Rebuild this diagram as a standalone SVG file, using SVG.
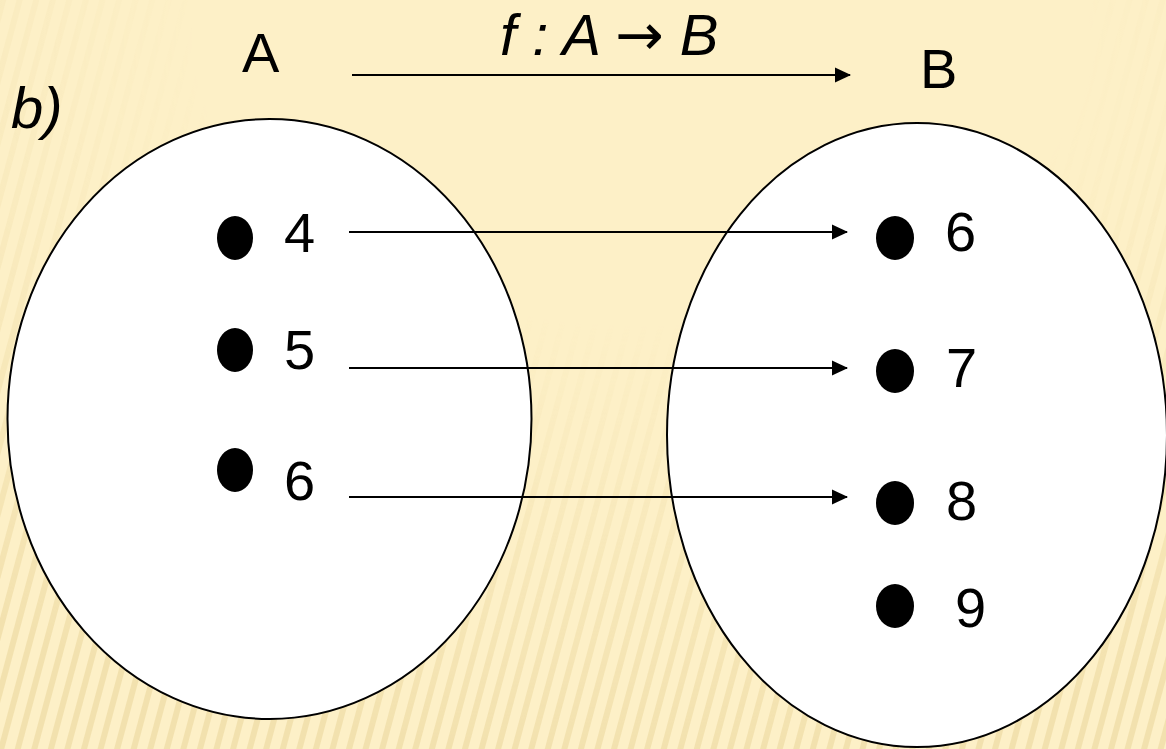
<svg xmlns="http://www.w3.org/2000/svg" width="1166" height="749" viewBox="0 0 1166 749">
<defs>
<style>
.set{fill:#ffffff;stroke:#000000;stroke-width:2}
.dot{fill:#000000}
.lbl{font-family:"Liberation Sans",Arial,sans-serif;font-size:56px;fill:#000000}
.it{font-family:"Liberation Sans",Arial,sans-serif;font-style:italic;fill:#000000}
.con{stroke:#000000;stroke-width:2;fill:none;marker-end:url(#ah)}
</style>
<marker id="ah" viewBox="0 0 16 16" refX="15" refY="8" markerWidth="16" markerHeight="16" markerUnits="userSpaceOnUse" orient="auto">
<path d="M0,0.5 L16,8 L0,15.5 Z" fill="#000000"/>
</marker>
<pattern id="stripes" width="16" height="16" patternUnits="userSpaceOnUse" patternTransform="rotate(15)">
<rect x="0" y="0" width="6" height="16" fill="#e6d092"/>
</pattern>
<radialGradient id="fade" cx="0.55" cy="0.05" r="0.95">
<stop offset="0" stop-color="#000"/>
<stop offset="0.4" stop-color="#000"/>
<stop offset="1" stop-color="#fff"/>
</radialGradient>
<mask id="m">
<rect width="1166" height="749" fill="url(#fade)"/>
</mask>
</defs>
<rect width="1166" height="749" fill="#fdf0c7"/>
<rect width="1166" height="749" fill="url(#stripes)" opacity="0.45" mask="url(#m)"/>

<g id="title">
<text class="it" x="11" y="128" font-size="58">b)</text>
<text class="it" x="500" y="55" font-size="58">f : A <tspan font-family="'DejaVu Sans',sans-serif" font-style="normal">→</tspan> B</text>
</g>

<g id="setA">
<ellipse class="set" cx="269.5" cy="419" rx="262" ry="300"/>
<text class="lbl" x="242" y="72">A</text>
</g>
<g id="setB">
<ellipse class="set" cx="917" cy="435" rx="250" ry="312"/>
<text class="lbl" x="920" y="88">B</text>
</g>

<g id="a4"><ellipse class="dot" cx="235" cy="238" rx="18" ry="22"/><text class="lbl" x="284" y="252">4</text></g>
<g id="a5"><ellipse class="dot" cx="235" cy="350" rx="18" ry="22"/><text class="lbl" x="284" y="369">5</text></g>
<g id="a6"><ellipse class="dot" cx="235" cy="470" rx="18" ry="22"/><text class="lbl" x="284" y="500">6</text></g>

<g id="b6"><ellipse class="dot" cx="895" cy="238" rx="19" ry="22"/><text class="lbl" x="945" y="251">6</text></g>
<g id="b7"><ellipse class="dot" cx="895" cy="371" rx="19" ry="22"/><text class="lbl" x="946" y="387">7</text></g>
<g id="b8"><ellipse class="dot" cx="895" cy="503" rx="19" ry="22"/><text class="lbl" x="946" y="520">8</text></g>
<g id="b9"><ellipse class="dot" cx="895" cy="606" rx="19" ry="22"/><text class="lbl" x="955" y="627">9</text></g>

<g id="connectors">
<line class="con" x1="352" y1="75" x2="850" y2="75"/>
<line class="con" x1="349" y1="232" x2="847" y2="232"/>
<line class="con" x1="349" y1="368" x2="847" y2="368"/>
<line class="con" x1="349" y1="497" x2="847" y2="497"/>
</g>
</svg>
